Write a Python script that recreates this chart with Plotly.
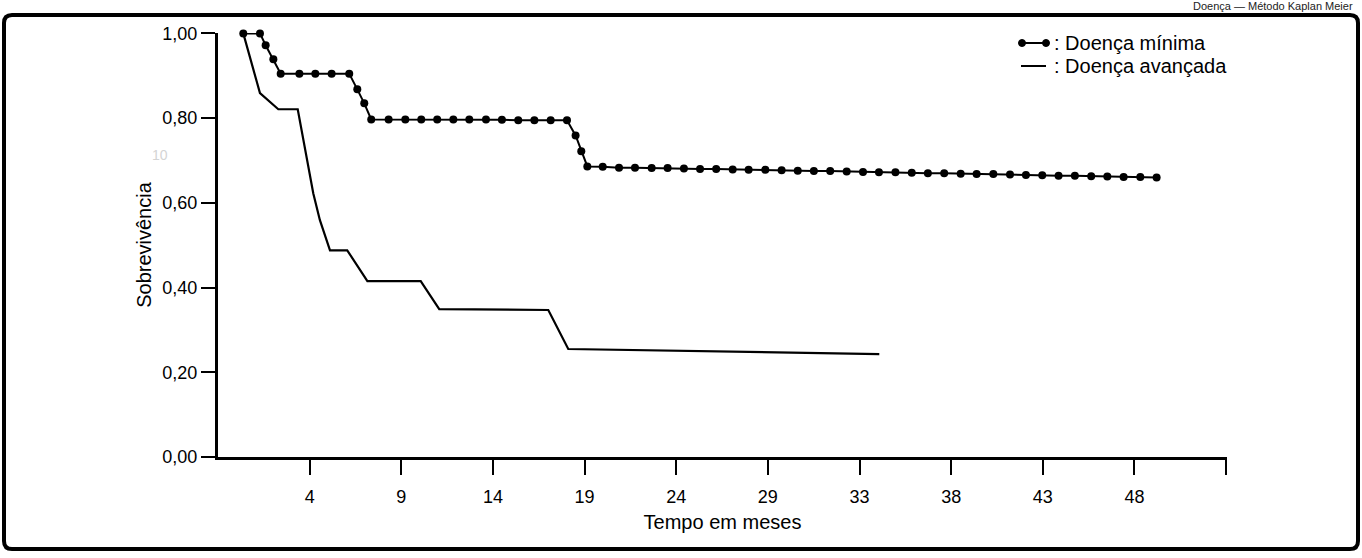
import plotly.graph_objects as go

# ---- data (months, survival) ----
x_tick_vals = [4, 9, 14, 19, 24, 29, 34, 39, 44, 49, 54]
x_tick_labels = ["4", "9", "14", "19", "24", "29", "33", "38", "43", "48", ""]
y_tick_vals = [0.0, 0.2, 0.4, 0.6, 0.8, 1.0]
y_tick_labels = ["0,00", "0,20", "0,40", "0,60", "0,80", "1,00"]

minima_t = [0.38, 1.29, 1.60, 2.02, 2.42, 3.44, 4.31, 5.20, 6.16, 6.60, 6.98, 7.36,
            8.31, 9.22, 10.09, 10.96, 11.84, 12.71, 13.62, 14.49, 15.38, 16.26,
            17.15, 18.04, 18.51, 18.82, 19.15, 19.99, 20.88, 21.75, 22.66, 23.53,
            24.42, 25.30, 26.18, 27.08, 27.95, 28.86, 29.75, 30.63, 31.51, 32.40,
            33.30, 34.19, 35.06, 35.96, 36.85, 37.73, 38.62, 39.52, 40.39, 41.30,
            42.21, 43.08, 43.97, 44.86, 45.75, 46.64, 47.52, 48.41, 49.32, 50.21]
minima_s = [1.000, 1.000, 0.972, 0.939, 0.905, 0.905, 0.905, 0.905, 0.905, 0.868, 0.835, 0.797,
            0.797, 0.797, 0.797, 0.797, 0.797, 0.797, 0.797, 0.796, 0.795, 0.795,
            0.795, 0.795, 0.759, 0.722, 0.686, 0.685, 0.683, 0.683, 0.682, 0.682,
            0.681, 0.680, 0.680, 0.679, 0.678, 0.678, 0.677, 0.676, 0.675, 0.675,
            0.674, 0.673, 0.672, 0.672, 0.671, 0.670, 0.670, 0.669, 0.668, 0.668,
            0.667, 0.666, 0.665, 0.664, 0.664, 0.663, 0.662, 0.661, 0.661, 0.660]

avancada_t = [0.38, 1.29, 2.29, 3.35, 4.20, 4.56, 5.11, 6.05, 7.15, 10.06, 11.07, 17.02, 18.11, 35.08]
avancada_s = [1.000, 0.859, 0.821, 0.821, 0.622, 0.559, 0.488, 0.488, 0.415, 0.415, 0.349, 0.347, 0.255, 0.243]

legend_labels = [": Doença mínima", ": Doença avançada"]

FONT = "Liberation Sans, Arial, sans-serif"

fig = go.Figure()
fig.add_trace(go.Scatter(x=minima_t, y=minima_s, mode="lines+markers",
                         line=dict(color="black", width=2),
                         marker=dict(color="black", size=8),
                         cliponaxis=False, showlegend=False, name="Doença mínima"))
fig.add_trace(go.Scatter(x=avancada_t, y=avancada_s, mode="lines",
                         line=dict(color="black", width=2.2),
                         cliponaxis=False, showlegend=False, name="Doença avançada"))

L, R, T, B = 218, 135, 33, 101
W, H = 1362, 558
pw, ph = W - L - R, H - T - B


def px(x):
    return (x - L) / pw


def py(y):
    return (H - B - y) / ph


shapes = []
# outer frame
x0, x1, y0, y1 = px(4), px(1358), py(15), py(549)
rx, ry = 8 / pw, 8 / ph
path = (f"M {x0+rx},{y0} L {x1-rx},{y0} Q {x1},{y0} {x1},{y0-ry} "
        f"L {x1},{y1+ry} Q {x1},{y1} {x1-rx},{y1} L {x0+rx},{y1} "
        f"Q {x0},{y1} {x0},{y1+ry} L {x0},{y0-ry} Q {x0},{y0} {x0+rx},{y0} Z")
shapes.append(dict(type="path", path=path, xref="paper", yref="paper",
                   line=dict(color="black", width=4)))
# legend symbols
shapes.append(dict(type="line", xref="paper", yref="paper", x0=px(1022), x1=px(1046),
                   y0=py(43), y1=py(43), line=dict(color="black", width=2)))
for cx in (1022, 1046):
    shapes.append(dict(type="circle", xref="paper", yref="paper",
                       x0=px(cx - 3.5), x1=px(cx + 3.5), y0=py(43 - 3.5), y1=py(43 + 3.5),
                       fillcolor="black", line=dict(color="black", width=1)))
shapes.append(dict(type="line", xref="paper", yref="paper", x0=px(1021), x1=px(1046),
                   y0=py(66), y1=py(66), line=dict(color="black", width=2)))

annotations = [
    dict(x=px(1052), y=py(43), xref="paper", yref="paper", text=legend_labels[0],
         showarrow=False, xanchor="left", yanchor="middle",
         font=dict(family=FONT, size=20, color="black")),
    dict(x=px(1052), y=py(66), xref="paper", yref="paper", text=legend_labels[1],
         showarrow=False, xanchor="left", yanchor="middle",
         font=dict(family=FONT, size=20, color="black")),
    dict(x=px(1354), y=py(6), xref="paper", yref="paper",
         text="Doença — Método Kaplan Meier",
         showarrow=False, xanchor="right", yanchor="middle", borderpad=0,
         font=dict(family=FONT, size=11, color="#222")),
    dict(x=px(160), y=py(155), xref="paper", yref="paper", text="10",
         showarrow=False, xanchor="center", yanchor="middle",
         font=dict(family=FONT, size=14, color="#d4d4d4")),
]

fig.update_layout(
    width=W, height=H,
    margin=dict(l=L, r=R, t=T, b=B, pad=0),
    paper_bgcolor="white", plot_bgcolor="white",
    font=dict(family=FONT, color="black", size=18),
    shapes=shapes, annotations=annotations,
    xaxis=dict(range=[-1, 54.05], tickmode="array", tickvals=x_tick_vals,
               ticktext=x_tick_labels, ticks="outside", ticklen=15, tickwidth=2,
               tickcolor="black", showline=True, linewidth=3, linecolor="black",
               showgrid=False, zeroline=False, tickfont=dict(size=18),
               ticklabelstandoff=6,
               title=dict(text="Tempo em meses", font=dict(size=20), standoff=10)),
    yaxis=dict(range=[0, 1.001], tickmode="array", tickvals=y_tick_vals,
               ticktext=y_tick_labels, ticks="outside", ticklen=14, tickwidth=2,
               tickcolor="black", showline=True, linewidth=3, linecolor="black",
               showgrid=False, zeroline=False, tickfont=dict(size=18),
               title=dict(text="Sobrevivência", font=dict(size=20), standoff=6)),
)

fig.write_html("out.html", config={"displayModeBar": False},
               post_script="document.body.style.margin='0';"
                           "document.body.style.overflow='hidden';")
